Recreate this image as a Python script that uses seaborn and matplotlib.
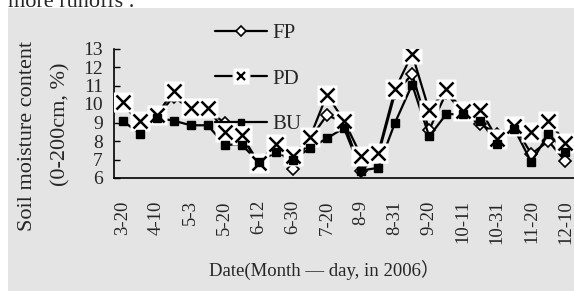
import numpy as np
import pandas as pd
import seaborn as sns
import matplotlib.pyplot as plt
from matplotlib.lines import Line2D
from matplotlib.patches import Rectangle

# sampling dates (only every other one is labelled on the axis)
tick_labels = ['3-20', '4-10', '5-3', '5-20', '6-12', '6-30', '7-20',
               '8-9', '8-31', '9-20', '10-11', '10-31', '11-20', '12-10']
n_obs = 27

fp = [10.0, 9.0, 9.3, 10.4, 9.7, 9.6, 9.0, 8.2, 6.8, 7.8, 6.5, 8.1, 9.4, 9.0,
      6.4, 7.2, 10.6, 11.6, 8.6, 10.6, 9.5, 8.9, 8.4, 8.8, 7.3, 8.0, 6.9]
pd_ = [10.1, 9.1, 9.4, 10.7, 9.8, 9.8, 8.5, 8.3, 6.8, 7.85, 7.2, 8.2, 10.5, 9.1,
       7.2, 7.35, 10.8, 12.7, 9.65, 10.8, 9.6, 9.7, 8.1, 8.8, 8.5, 9.1, 7.9]
bu = [9.1, 8.4, 9.25, 9.1, 8.85, 8.85, 7.8, 7.8, 6.85, 7.4, 7.0, 7.6, 8.15, 8.7,
      6.4, 6.55, 9.0, 11.05, 8.25, 9.45, 9.45, 9.1, 7.85, 8.65, 6.85, 8.4, 7.4]

df = pd.DataFrame({'obs': np.arange(n_obs), 'FP': fp, 'PD': pd_, 'BU': bu})

sns.set_style('white')
plt.rcParams['font.family'] = ['Liberation Serif', 'Noto Sans CJK SC', 'DejaVu Sans']

fig = plt.figure(figsize=(5.74, 2.91), dpi=100, facecolor='white')
gray = '#e4e4e4'
fig.patches.append(Rectangle((8 / 574, 0), 1, 1 - 8 / 291, transform=fig.transFigure,
                             facecolor=gray, edgecolor='none', zorder=-5))

ax = fig.add_axes([114 / 574, 1 - 178 / 291, 1 - 114 / 574, (178 - 48.5) / 291])
ax.set_facecolor('none')
ax.set_zorder(2)

sns.lineplot(data=df, x='obs', y='FP', ax=ax, color='black', lw=1.6, marker='D',
             markersize=6, markerfacecolor='white', markeredgecolor='black',
             markeredgewidth=1.2, zorder=2)
sns.lineplot(data=df, x='obs', y='BU', ax=ax, color='black', lw=1.6, zorder=2)
sns.lineplot(data=df, x='obs', y='PD', ax=ax, color='black', lw=1.6, zorder=2)
# white boxes behind the crosses (as in the scanned figure)
ax.plot(df['obs'], df['PD'], ls='none', marker='s', markersize=15,
        markerfacecolor='white', markeredgecolor='none', zorder=3)
ax.plot(df['obs'], df['PD'], ls='none', marker='x', markersize=10.5,
        markeredgewidth=1.8, color='black', zorder=4)
ax.plot(df['obs'], df['BU'], ls='none', marker='s', markersize=6,
        color='black', zorder=5)

ax.set_xlim(-0.5, -0.5 + (574 - 114) / 17.2)
ax.set_ylim(6, 13)
ax.set_yticks(range(6, 14))
ax.set_xticks(np.arange(0, n_obs, 2))
ax.set_xticklabels(tick_labels, rotation=90, fontsize=13.5)
ax.set_xticks(np.arange(0.5, n_obs, 1), minor=True)
ax.tick_params(axis='x', which='major', length=0, pad=16)
ax.tick_params(axis='x', which='minor', direction='in', length=4, width=1, color='black')
ax.tick_params(axis='y', direction='in', length=4, width=1, color='black',
               labelsize=14, pad=8, left=True)
ax.set_xlabel('')
ax.set_ylabel('')
sns.despine(ax=ax)
for s in ['left', 'bottom']:
    ax.spines[s].set_color('black')
    ax.spines[s].set_linewidth(1.2)

fig.text(28 / 574, 1 - 136 / 291, 'Soil moisture content', rotation=90,
         ha='center', va='center', fontsize=16)
fig.text(61 / 574, 1 - 124 / 291, '(0-200cm, %)', rotation=90,
         ha='center', va='center', fontsize=16)
fig.text(324 / 574, 1 - 270 / 291, 'Date(Month — day, in 2006）',
         ha='center', va='center', fontsize=13.5)
fig.text(8 / 574, 1 - 7 / 291, 'more runoffs .', ha='left', va='baseline', fontsize=16)

h_fp = Line2D([], [], color='black', lw=1.6, marker='D', markersize=5,
              markerfacecolor='white', markeredgecolor='black', markeredgewidth=1.2)
h_pd_line = Line2D([], [], color='black', lw=1.6)
h_pd_box = Line2D([], [], ls='none', marker='s', markersize=13,
                  markerfacecolor=gray, markeredgecolor='none')
h_pd_box2 = Line2D([], [], ls='none', marker='s', markersize=11,
                   markerfacecolor='white', markeredgecolor='none')
h_pd = Line2D([], [], ls='none', color='black', marker='x', markersize=6,
              markeredgewidth=1.6)
h_bu = Line2D([], [], color='black', lw=1.6, marker='s', markersize=5)
leg = ax.legend([h_fp, (h_pd_line, h_pd_box, h_pd_box2, h_pd), h_bu], ['FP', 'PD', 'BU'],
                loc='center left', bbox_to_anchor=(215 / 574, 1 - 79 / 291),
                bbox_transform=fig.transFigure, frameon=False, fontsize=15,
                handlelength=2.5, handletextpad=0.25, labelspacing=1.25,
                borderpad=0, borderaxespad=0)
leg.set_zorder(6)

fig.savefig('out.png', dpi=100, facecolor='white')
